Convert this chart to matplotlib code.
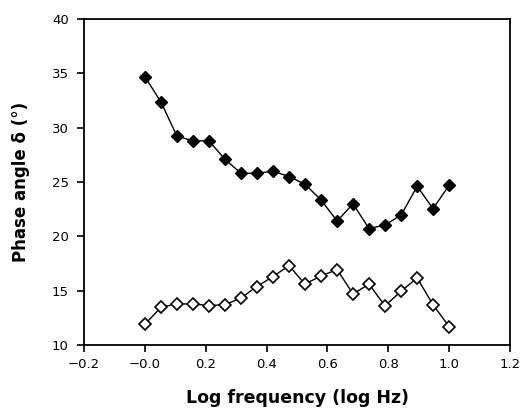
import matplotlib
matplotlib.use("Agg")
import matplotlib.pyplot as plt

log_freq = [0.0, 0.053, 0.105, 0.158, 0.21, 0.263, 0.316, 0.368, 0.421, 0.474,
            0.526, 0.579, 0.632, 0.684, 0.737, 0.789, 0.842, 0.895, 0.947, 1.0]
filled_vals = [34.7, 32.35, 29.25, 28.77, 28.8, 27.1, 25.8, 25.8, 26.0, 25.5,
               24.8, 23.35, 21.4, 23.0, 20.7, 21.05, 21.95, 24.6, 22.55, 24.7]
open_vals = [11.9, 13.47, 13.78, 13.78, 13.63, 13.7, 14.33, 15.38, 16.3, 17.3,
             15.6, 16.36, 16.94, 14.7, 15.6, 13.6, 14.95, 16.17, 13.7, 11.7]
x_ticks = [-0.2, 0.0, 0.2, 0.4, 0.6, 0.8, 1.0, 1.2]
x_ticklabels = ["\u22120.2", "\u22120.0", "0.2", "0.4", "0.6", "0.8", "1.0", "1.2"]
y_ticks = [10, 15, 20, 25, 30, 35, 40]

plt.rcParams['font.family'] = ['DejaVu Sans']

fig = plt.figure(figsize=(5.29, 4.16), dpi=100)
ax = fig.add_axes([84/529, 1-345/416, (510-84)/529, (345-19)/416])

ax.plot(log_freq, filled_vals, color='black', lw=1.0, marker='D', ms=6.3,
        mfc='black', mec='black')
ax.plot(log_freq, open_vals, color='black', lw=1.0, marker='D', ms=6.5,
        mfc='white', mec='black', mew=1.2)

ax.set_xlim(-0.2, 1.2)
ax.set_ylim(10, 40)
ax.set_xticks(x_ticks)
ax.set_xticklabels(x_ticklabels)
ax.set_yticks(y_ticks)
for s in ax.spines.values():
    s.set_linewidth(1.3)
ax.tick_params(direction='out', length=5, width=1.2, labelsize=9.5)
ax.tick_params(axis='x', pad=4)
ax.tick_params(axis='y', pad=6)

ax.set_xlabel("Log frequency (log Hz)", fontsize=12.5, fontweight='bold', labelpad=13)
ax.set_ylabel("Phase angle \u03b4 (\u00b0)", fontsize=12, fontweight='bold', labelpad=16)

fig.savefig("out.png", dpi=100)
